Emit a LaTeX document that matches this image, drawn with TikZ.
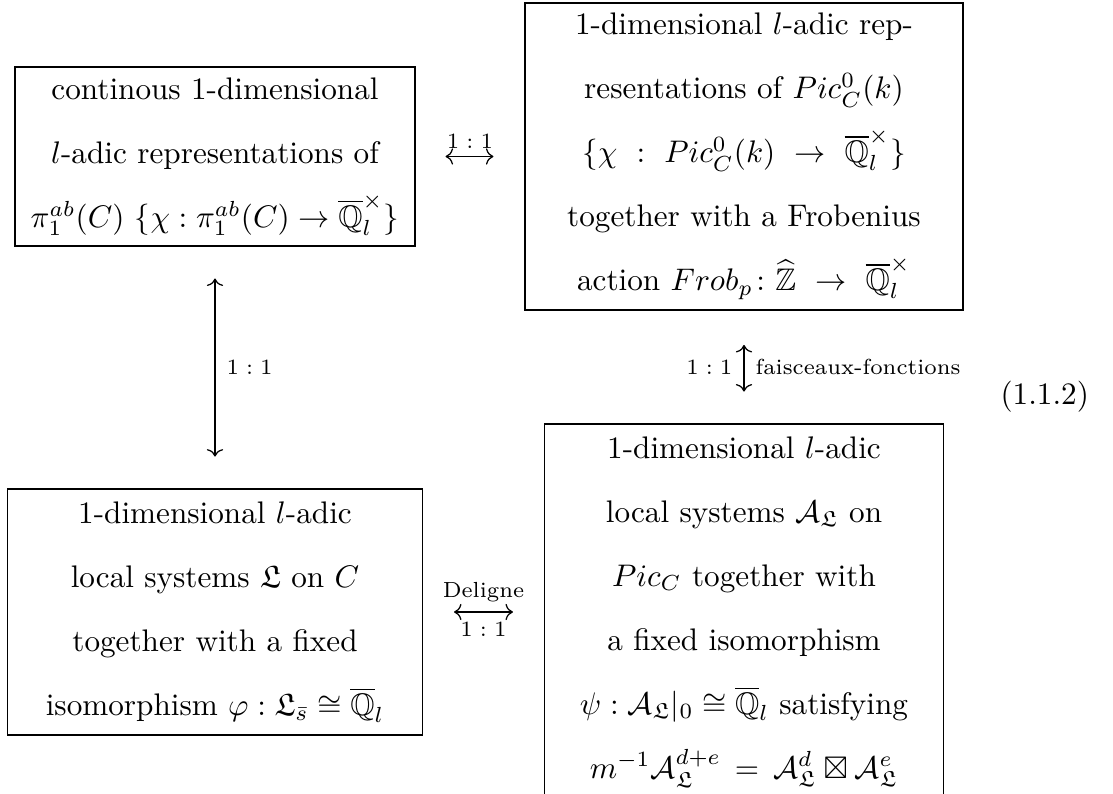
\documentclass[tikz,border=0pt]{standalone}
\usepackage{amsmath,amssymb}
\usetikzlibrary{positioning,arrows.meta}

\begin{document}
\begin{tikzpicture}[x=0.3205pt, y=-0.3205pt, >={To[length=2.4pt,width=5.2pt]},
    block/.style={rectangle, draw, align=center, inner sep=0pt, font=\fontsize{10}{20.5}\selectfont},
    tag/.style={font=\scriptsize, inner sep=1.5pt}]
    \useasboundingbox (0,0) rectangle (1113,794);

    \node [block, minimum width=128.2pt, minimum height=57.4pt] (reps) at (215,156.5)
        {continous 1-dimensional\\ $l$-adic representations of\\
         $\pi_1^{ab}(C)$ $\{\chi : \pi_1^{ab}(C) \to \overline{\mathbb{Q}}_l^{\times}\}$};
    \node [block, minimum width=140.4pt, minimum height=98.4pt] (picreps) at (744,156.5)
        {1-dimensional $l$-adic rep-\\ resentations of $Pic_C^0(k)$\\
         $\{\chi\ :\ Pic_C^0(k)\ \to\ \overline{\mathbb{Q}}_l^{\times}\}$\\
         together with a Frobenius\\
         action $Frob_p\colon \widehat{\mathbb{Z}}\ \to\ \overline{\mathbb{Q}}_l^{\times}$};
    \node [block, minimum width=133pt, minimum height=78.8pt] (locsys) at (215,612)
        {1-dimensional $l$-adic\\ local systems $\mathfrak{L}$ on $C$\\
         together with a fixed\\
         isomorphism $\varphi : \mathfrak{L}_{\bar{s}} \cong \overline{\mathbb{Q}}_l$};
    \node [block, minimum width=127.9pt, minimum height=120.5pt] (picsys) at (744,612)
        {1-dimensional $l$-adic\\ local systems $\mathcal{A}_{\mathfrak{L}}$ on\\
         $Pic_C$ together with\\ a fixed isomorphism\\
         $\psi : \mathcal{A}_{\mathfrak{L}}|_0 \cong \overline{\mathbb{Q}}_l$ satisfying\\
         $m^{-1}\mathcal{A}_{\mathfrak{L}}^{d+e} \,=\, \mathcal{A}_{\mathfrak{L}}^{d} \boxtimes \mathcal{A}_{\mathfrak{L}}^{e}$};
    \node [anchor=east] (eqno) at (1100,397) {(1.1.2)};

    \draw [<->, shorten <=9.6pt, shorten >=9.9pt] (reps) -- node [tag, above=1pt] {$1:1$} (picreps);
    \draw [<->, shorten <=10.2pt, shorten >=10.2pt] (reps) -- node [tag, right=2pt] {$1:1$} (locsys);
    \draw [<->, shorten <=11pt, shorten >=10.2pt] (picreps) -- node [tag, left=2pt] {$1:1$}
        node [tag, right=2pt] {faisceaux-fonctions} (picsys);
    \draw [<->, shorten <=9.9pt, shorten >=9.9pt] (locsys) -- node [tag, above=1.5pt] {Deligne}
        node [tag, below=1.5pt] {$1:1$} (picsys);
\end{tikzpicture}
\end{document}
